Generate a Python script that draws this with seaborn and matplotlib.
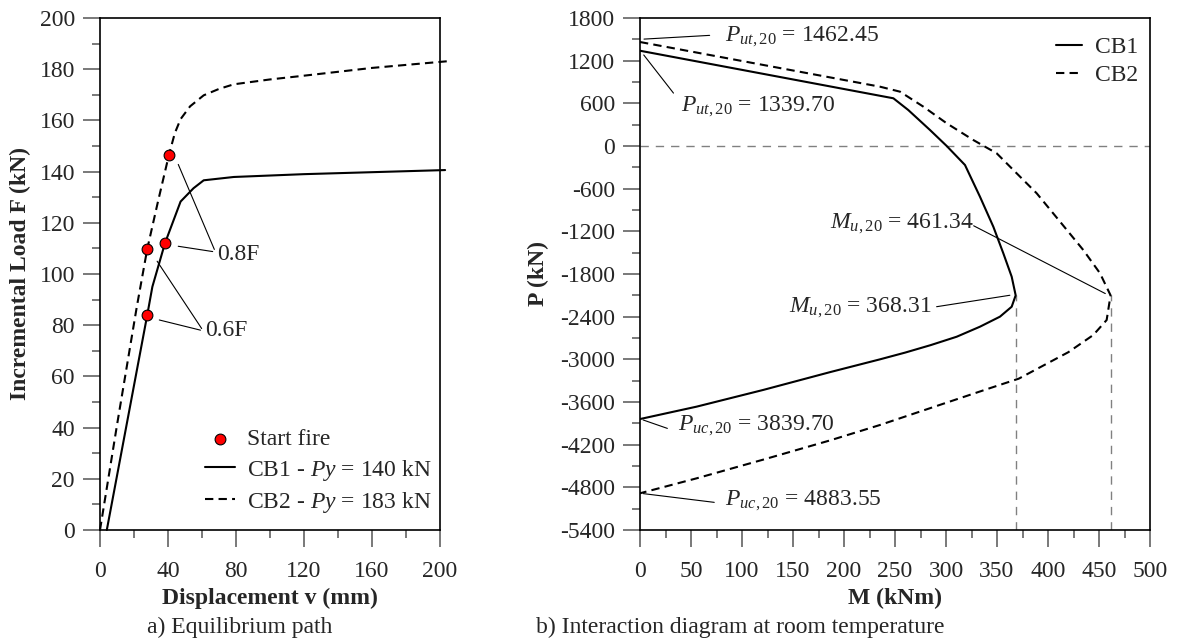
import matplotlib
matplotlib.use("Agg")
import matplotlib.pyplot as plt
import seaborn as sns
import pandas as pd

# ---- a) equilibrium path ----
cb1_v = [4.0, 27.8, 30.8, 38.2, 47.4, 55.0, 61.0, 78.7, 120.0, 203.0]
cb1_f = [0.0, 84.0, 95.0, 112.0, 128.3, 133.5, 136.6, 137.9, 139.0, 140.6]
cb2_v = [0.0, 10.0, 21.6, 27.8, 34.0, 40.5, 44.0, 47.4, 53.0, 61.0, 70.0, 78.7, 100.0, 117.8, 160.0, 205.9]
cb2_f = [0.0, 41.0, 87.0, 109.8, 128.0, 146.4, 155.0, 160.5, 165.5, 169.8, 172.3, 174.1, 176.0, 177.3, 180.5, 183.2]
fire_v = [27.8, 38.2, 27.8, 40.5]
fire_f = [84.0, 112.0, 109.8, 146.4]

# ---- b) interaction diagram ----
cb1_m = [0, 248.4, 263, 284.3, 300.7, 318.6, 333.3, 346.4, 356.2, 364.4, 368.31,
         364.4, 352.9, 333.3, 310.5, 285, 260, 235.3, 186.3, 120.9, 55.6, 0]
cb1_p = [1339.70, 671, 506, 225, 0, -267, -713, -1135, -1509, -1838, -2100,
         -2260, -2400, -2541, -2682, -2800, -2905, -3000, -3180, -3430, -3665, -3839.70]
cb2_m = [0, 235.3, 254.9, 277.8, 300.7, 326.8, 349.7, 366, 388.9, 411.8, 434.6, 451, 461.34,
         457.5, 444.4, 420, 371.3, 340, 298.3, 235.3, 186.3, 120.9, 55.6, 0]
cb2_p = [1462.45, 834, 764, 553, 319, 84, -103, -337, -665, -1064, -1463, -1790, -2100,
         -2447, -2658, -2899, -3272, -3420, -3620, -3923, -4140, -4410, -4673, -4883.55]
m_max = [368.31, 461.34]

sns.set_style("ticks")
plt.rcParams["font.family"] = ["Liberation Serif", "DejaVu Serif"]
plt.rcParams["mathtext.fontset"] = "custom"
plt.rcParams["mathtext.rm"] = "Liberation Serif"
plt.rcParams["mathtext.it"] = "Liberation Serif:italic"
plt.rcParams["font.size"] = 17
plt.rcParams["axes.unicode_minus"] = False

FS = 17
dash = (0, (4, 2.5))
grey = (0, (6, 5))

fig = plt.figure(figsize=(11.79, 6.42), dpi=100)
ax1 = fig.add_axes([100 / 1179, 112 / 642, 340 / 1179, 512 / 642])
ax2 = fig.add_axes([640 / 1179, 112 / 642, 510 / 1179, 512 / 642])

def style_axis(ax):
    for s in ax.spines.values():
        s.set_linewidth(1.2)
        s.set_color("black")
    ax.tick_params(which="major", direction="out", length=12, width=1.1, color="#555555",
                   labelsize=FS, pad=6)
    ax.tick_params(axis="x", which="major", pad=10)
    ax.tick_params(which="minor", direction="out", length=6, width=1.1, color="#555555")

# left panel
d1 = pd.DataFrame({"v": cb1_v, "F": cb1_f})
d2 = pd.DataFrame({"v": cb2_v, "F": cb2_f})
df = pd.DataFrame({"v": fire_v, "F": fire_f})
sns.lineplot(data=d1, x="v", y="F", ax=ax1, color="black", lw=1.5, sort=False,
             estimator=None, label="CB1 - $Py$ = 140 kN")
sns.lineplot(data=d2, x="v", y="F", ax=ax1, color="black", lw=1.5, sort=False,
             estimator=None, linestyle=dash, label="CB2 - $Py$ = 183 kN")
for ln in ax1.lines:
    ln.set_clip_on(False)
sns.scatterplot(data=df, x="v", y="F", ax=ax1, color="red", edgecolor="black", linewidth=0.8,
                s=60, zorder=5, label="Start fire")
ax1.set_xlim(0, 200)
ax1.set_ylim(0, 200)
ax1.set_xticks(range(0, 201, 40))
ax1.set_xticks(range(20, 200, 40), minor=True)
ax1.set_yticks(range(0, 201, 20))
ax1.set_yticks(range(10, 200, 20), minor=True)
style_axis(ax1)

lk = dict(color="black", lw=0.8)
for (x0, y0) in [(45.4, 143.8), (44.4, 111.0)]:
    ax1.annotate("", xy=(x0, y0), xytext=(67.9, 108.6), arrowprops=dict(arrowstyle="-", **lk))
for (x0, y0) in [(32.7, 105.9), (33.3, 82.3)]:
    ax1.annotate("", xy=(x0, y0), xytext=(60.7, 77.8), arrowprops=dict(arrowstyle="-", **lk))
ax1.text(69.0, 107.8, "0.8F", fontsize=FS, va="center", ha="left")
ax1.text(62.0, 78.0, "0.6F", fontsize=FS, va="center", ha="left")

h, l = ax1.get_legend_handles_labels()
order = [l.index("Start fire"), l.index("CB1 - $Py$ = 140 kN"), l.index("CB2 - $Py$ = 183 kN")]
ax1.legend([h[i] for i in order], [l[i] for i in order], loc="lower right",
           bbox_to_anchor=(0.975, 0.03), frameon=False, fontsize=FS, borderpad=0,
           labelspacing=0.3, handlelength=1.25, handletextpad=0.5, borderaxespad=0)

ax1.set_xlabel("Displacement v (mm)", fontsize=FS, fontweight="bold")
ax1.set_ylabel("Incremental Load F (kN)", fontsize=FS, fontweight="bold")
ax1.xaxis.set_label_coords(0.5, -0.133)
ax1.xaxis.label.set_va("center")
ax1.yaxis.set_label_coords(-0.235, 0.5)
ax1.yaxis.label.set_va("center")

# right panel
e1 = pd.DataFrame({"M": cb1_m, "P": cb1_p})
e2 = pd.DataFrame({"M": cb2_m, "P": cb2_p})
ax2.axhline(0, color="#808080", lw=1, linestyle=grey, zorder=1)
ax2.vlines(m_max, -5400, -2100, color="#808080", lw=1, linestyle=grey, zorder=1)
sns.lineplot(data=e1, x="M", y="P", ax=ax2, color="black", lw=1.5, sort=False,
             estimator=None, label="CB1")
sns.lineplot(data=e2, x="M", y="P", ax=ax2, color="black", lw=1.5, sort=False,
             estimator=None, linestyle=dash, label="CB2")
ax2.set_xlim(0, 500)
ax2.set_ylim(-5400, 1800)
ax2.set_xticks(range(0, 501, 50))
ax2.set_xticks(range(25, 500, 50), minor=True)
ax2.set_yticks(range(-5400, 1801, 600))
ax2.set_yticks(range(-5100, 1800, 600), minor=True)
style_axis(ax2)

notes = [
    ("$P_{ut,20}$ = 1462.45", (83.0, 1540), (1.2, 1501), (71.0, 1558)),
    ("$P_{ut,20}$ = 1339.70", (40.6, 545), (2.0, 1311), (34.5, 713)),
    ("$M_{u,20}$ = 461.34", (186.7, -1100), (458.6, -2093), (324.7, -1104)),
    ("$M_{u,20}$ = 368.31", (146.1, -2280), (365.3, -2093), (288.1, -2266)),
    ("$P_{uc,20}$ = 3839.70", (37.0, -3935), (0.5, -3839.7), (29.4, -3984)),
    ("$P_{uc,20}$ = 4883.55", (83.3, -4990), (0.5, -4883.55), (75.5, -5016)),
]
for txt, tpos, p0, p1 in notes:
    ax2.text(tpos[0], tpos[1], txt, fontsize=FS, va="center", ha="left")
    ax2.annotate("", xy=p0, xytext=p1, arrowprops=dict(arrowstyle="-", **lk))

ax2.legend(loc="upper right", bbox_to_anchor=(0.976, 0.963), frameon=False, fontsize=FS,
           borderpad=0, labelspacing=0.25, handlelength=1.1, handletextpad=0.55, borderaxespad=0)
ax2.set_xlabel("M (kNm)", fontsize=FS, fontweight="bold")
ax2.set_ylabel("P (kN)", fontsize=FS, fontweight="bold")
ax2.xaxis.set_label_coords(0.5, -0.133)
ax2.xaxis.label.set_va("center")
ax2.yaxis.set_label_coords(-0.2, 0.5)
ax2.yaxis.label.set_va("center")

fig.text(240 / 1179, 1 - 627 / 642, "a) Equilibrium path", fontsize=FS, ha="center", va="center")
fig.text(740 / 1179, 1 - 627 / 642, "b) Interaction diagram at room temperature", fontsize=FS,
         ha="center", va="center")

fig.savefig("out.png", dpi=100)
